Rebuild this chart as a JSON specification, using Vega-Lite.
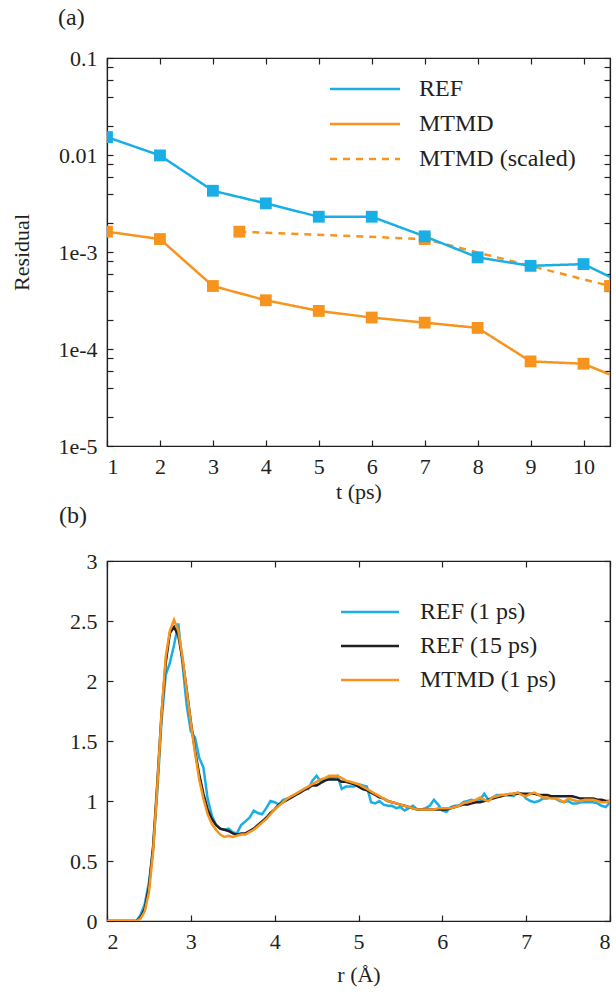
{
  "$schema": "https://vega.github.io/schema/vega-lite/v6.json",
  "background": "white",
  "autosize": {"type": "pad"},
  "padding": {"left": 10, "top": 5, "right": 5, "bottom": 5},
  "config": {
    "font": "Liberation Serif",
    "view": {"stroke": "#231f20", "strokeWidth": 1.2},
    "axis": {
      "labelFont": "Liberation Serif", "labelFontSize": 22, "labelColor": "#231f20",
      "titleFont": "Liberation Serif", "titleFontSize": 22, "titleFontWeight": "normal", "titleColor": "#231f20",
      "domainColor": "#231f20", "domainWidth": 1.2, "tickColor": "#231f20", "tickWidth": 1.2,
      "grid": false, "tickSize": -6, "labelPadding": 16
    },
    "legend": {
      "labelFont": "Liberation Serif", "labelFontSize": 24, "labelColor": "#231f20",
      "symbolStrokeWidth": 2.5, "symbolSize": 400
    },
    "title": {"font": "Liberation Serif", "fontSize": 24, "fontWeight": "normal", "color": "#231f20", "anchor": "start", "frame": "group"}
  },
  "bounds": "flush",
  "spacing": 115,
  "resolve": {"scale": {"color": "independent", "strokeDash": "independent"}, "legend": {"color": "independent", "strokeDash": "independent"}},
  "vconcat": [
    {
      "width": 503,
      "height": 388,
      "title": {"text": "(a)", "dx": -49, "offset": 17},
      "data": {"values": [
        {"t": 1, "v": 0.00162, "s": "MTMD"},
        {"t": 2, "v": 0.00136, "s": "MTMD"},
        {"t": 3, "v": 0.000446, "s": "MTMD"},
        {"t": 4, "v": 0.000318, "s": "MTMD"},
        {"t": 5, "v": 0.000247, "s": "MTMD"},
        {"t": 6, "v": 0.000211, "s": "MTMD"},
        {"t": 7, "v": 0.000187, "s": "MTMD"},
        {"t": 8, "v": 0.000165, "s": "MTMD"},
        {"t": 9, "v": 0.0000745, "s": "MTMD"},
        {"t": 10, "v": 0.0000705, "s": "MTMD"},
        {"t": 11, "v": 0.000042, "s": "MTMD"},
        {"t": 3.5, "v": 0.00162, "s": "MTMD (scaled)"},
        {"t": 7, "v": 0.00136, "s": "MTMD (scaled)"},
        {"t": 10.5, "v": 0.000446, "s": "MTMD (scaled)"},
        {"t": 1, "v": 0.0153, "s": "REF"},
        {"t": 2, "v": 0.0099, "s": "REF"},
        {"t": 3, "v": 0.00428, "s": "REF"},
        {"t": 4, "v": 0.00317, "s": "REF"},
        {"t": 5, "v": 0.00231, "s": "REF"},
        {"t": 6, "v": 0.00231, "s": "REF"},
        {"t": 7, "v": 0.00145, "s": "REF"},
        {"t": 8, "v": 0.00088, "s": "REF"},
        {"t": 9, "v": 0.00072, "s": "REF"},
        {"t": 10, "v": 0.00075, "s": "REF"},
        {"t": 11, "v": 0.00041, "s": "REF"}
      ]},
      "layer": [
        {
          "mark": {"type": "line", "strokeWidth": 2.5, "clip": true},
          "encoding": {
            "x": {"field": "t", "type": "quantitative",
                  "scale": {"domain": [1, 10.5], "nice": false, "zero": false},
                  "axis": {"values": [1,2,3,4,5,6,7,8,9,10], "title": "t (ps)", "titlePadding": 4}},
            "y": {"field": "v", "type": "quantitative",
                  "scale": {"type": "log", "domain": [0.00001, 0.1], "nice": false},
                  "axis": {"values": [0.00001,0.00002,0.00004,0.00006,0.00008,0.0001,0.0002,0.0004,0.0006,0.0008,0.001,0.002,0.004,0.006,0.008,0.01,0.02,0.04,0.06,0.08,0.1],
                           "labelExpr": "datum.value==0.1?'0.1':datum.value==0.01?'0.01':datum.value==0.001?'1e-3':datum.value==0.0001?'1e-4':datum.value==0.00001?'1e-5':''",
                           "title": "Residual", "titlePadding": 24}},
            "color": {"field": "s", "type": "nominal",
                      "scale": {"domain": ["REF", "MTMD", "MTMD (scaled)"], "range": ["#19aee6", "#f7941e", "#f7941e"]},
                      "legend": {"title": null, "orient": "none", "legendX": 246, "legendY": 19, "symbolType": "M-3.5,0L3.5,0", "rowPadding": 11, "labelOffset": 42}},
            "strokeDash": {"field": "s", "type": "nominal",
                      "scale": {"domain": ["REF", "MTMD", "MTMD (scaled)"], "range": [[1, 0], [1, 0], [7, 6]]},
                      "legend": {"title": null, "orient": "none", "legendX": 246, "legendY": 19, "symbolType": "M-3.5,0L3.5,0", "rowPadding": 11, "labelOffset": 42}}
          }
        },
        {
          "mark": {"type": "point", "shape": "square", "filled": true, "size": 140, "opacity": 1, "clip": true},
          "encoding": {
            "x": {"field": "t", "type": "quantitative", "axis": null},
            "y": {"field": "v", "type": "quantitative", "axis": null},
            "fill": {"field": "s", "type": "nominal",
                     "scale": {"domain": ["REF", "MTMD", "MTMD (scaled)"], "range": ["#19aee6", "#f7941e", "#f7941e"]},
                     "legend": null}
          }
        },
        {
          "mark": {"type": "line", "opacity": 0},
          "encoding": {
            "x": {"field": "t", "type": "quantitative",
                  "axis": {"orient": "top", "labels": false, "title": null, "values": [1,2,3,4,5,6,7,8,9,10]}},
            "y": {"field": "v", "type": "quantitative",
                  "axis": {"orient": "right", "labels": false, "title": null,
                           "values": [0.00001,0.00002,0.00004,0.00006,0.00008,0.0001,0.0002,0.0004,0.0006,0.0008,0.001,0.002,0.004,0.006,0.008,0.01,0.02,0.04,0.06,0.08,0.1]}}
          }
        }
      ],
      "resolve": {"axis": {"x": "independent", "y": "independent"}}
    },
    {
      "width": 503,
      "height": 360,
      "title": {"text": "(b)", "dx": -48, "offset": 22},
      "data": {"values": [
        {"r": 2.00, "ref1": 0, "ref15": 0, "mtmd": 0},
        {"r": 2.05, "ref1": 0, "ref15": 0, "mtmd": 0},
        {"r": 2.10, "ref1": 0, "ref15": 0, "mtmd": 0},
        {"r": 2.15, "ref1": 0, "ref15": 0, "mtmd": 0},
        {"r": 2.20, "ref1": 0, "ref15": 0, "mtmd": 0},
        {"r": 2.25, "ref1": 0, "ref15": 0, "mtmd": 0},
        {"r": 2.30, "ref1": 0, "ref15": 0, "mtmd": 0},
        {"r": 2.35, "ref1": 0, "ref15": 0, "mtmd": 0},
        {"r": 2.40, "ref1": 0.05, "ref15": 0.03, "mtmd": 0.02},
        {"r": 2.45, "ref1": 0.14, "ref15": 0.10, "mtmd": 0.08},
        {"r": 2.50, "ref1": 0.32, "ref15": 0.28, "mtmd": 0.24},
        {"r": 2.55, "ref1": 0.60, "ref15": 0.62, "mtmd": 0.58},
        {"r": 2.60, "ref1": 1.08, "ref15": 1.15, "mtmd": 1.12},
        {"r": 2.65, "ref1": 1.66, "ref15": 1.72, "mtmd": 1.72},
        {"r": 2.70, "ref1": 2.05, "ref15": 2.15, "mtmd": 2.20},
        {"r": 2.75, "ref1": 2.15, "ref15": 2.40, "mtmd": 2.42},
        {"r": 2.80, "ref1": 2.30, "ref15": 2.45, "mtmd": 2.51},
        {"r": 2.85, "ref1": 2.48, "ref15": 2.38, "mtmd": 2.42},
        {"r": 2.90, "ref1": 2.15, "ref15": 2.18, "mtmd": 2.20},
        {"r": 2.95, "ref1": 1.80, "ref15": 1.93, "mtmd": 1.92},
        {"r": 3.00, "ref1": 1.58, "ref15": 1.66, "mtmd": 1.65},
        {"r": 3.05, "ref1": 1.53, "ref15": 1.42, "mtmd": 1.40},
        {"r": 3.10, "ref1": 1.36, "ref15": 1.22, "mtmd": 1.18},
        {"r": 3.15, "ref1": 1.28, "ref15": 1.06, "mtmd": 1.02},
        {"r": 3.20, "ref1": 1.02, "ref15": 0.93, "mtmd": 0.89},
        {"r": 3.25, "ref1": 0.88, "ref15": 0.85, "mtmd": 0.81},
        {"r": 3.30, "ref1": 0.80, "ref15": 0.80, "mtmd": 0.76},
        {"r": 3.35, "ref1": 0.77, "ref15": 0.77, "mtmd": 0.72},
        {"r": 3.40, "ref1": 0.76, "ref15": 0.76, "mtmd": 0.70},
        {"r": 3.45, "ref1": 0.77, "ref15": 0.75, "mtmd": 0.71},
        {"r": 3.50, "ref1": 0.74, "ref15": 0.73, "mtmd": 0.70},
        {"r": 3.55, "ref1": 0.73, "ref15": 0.72, "mtmd": 0.71},
        {"r": 3.60, "ref1": 0.80, "ref15": 0.73, "mtmd": 0.72},
        {"r": 3.65, "ref1": 0.83, "ref15": 0.73, "mtmd": 0.72},
        {"r": 3.70, "ref1": 0.86, "ref15": 0.75, "mtmd": 0.74},
        {"r": 3.75, "ref1": 0.92, "ref15": 0.77, "mtmd": 0.76},
        {"r": 3.80, "ref1": 0.90, "ref15": 0.80, "mtmd": 0.79},
        {"r": 3.85, "ref1": 0.89, "ref15": 0.83, "mtmd": 0.82},
        {"r": 3.90, "ref1": 0.94, "ref15": 0.86, "mtmd": 0.85},
        {"r": 3.95, "ref1": 1.00, "ref15": 0.90, "mtmd": 0.89},
        {"r": 4.00, "ref1": 0.99, "ref15": 0.93, "mtmd": 0.93},
        {"r": 4.05, "ref1": 0.97, "ref15": 0.97, "mtmd": 0.96},
        {"r": 4.10, "ref1": 1.01, "ref15": 0.99, "mtmd": 0.99},
        {"r": 4.15, "ref1": 1.02, "ref15": 1.01, "mtmd": 1.02},
        {"r": 4.20, "ref1": 1.03, "ref15": 1.03, "mtmd": 1.04},
        {"r": 4.25, "ref1": 1.05, "ref15": 1.05, "mtmd": 1.06},
        {"r": 4.30, "ref1": 1.07, "ref15": 1.07, "mtmd": 1.08},
        {"r": 4.35, "ref1": 1.10, "ref15": 1.09, "mtmd": 1.10},
        {"r": 4.40, "ref1": 1.10, "ref15": 1.11, "mtmd": 1.12},
        {"r": 4.45, "ref1": 1.17, "ref15": 1.13, "mtmd": 1.14},
        {"r": 4.50, "ref1": 1.21, "ref15": 1.13, "mtmd": 1.16},
        {"r": 4.55, "ref1": 1.16, "ref15": 1.15, "mtmd": 1.18},
        {"r": 4.60, "ref1": 1.18, "ref15": 1.17, "mtmd": 1.19},
        {"r": 4.65, "ref1": 1.19, "ref15": 1.18, "mtmd": 1.21},
        {"r": 4.70, "ref1": 1.19, "ref15": 1.18, "mtmd": 1.21},
        {"r": 4.75, "ref1": 1.21, "ref15": 1.18, "mtmd": 1.21},
        {"r": 4.80, "ref1": 1.10, "ref15": 1.16, "mtmd": 1.19},
        {"r": 4.85, "ref1": 1.12, "ref15": 1.16, "mtmd": 1.17},
        {"r": 4.90, "ref1": 1.12, "ref15": 1.15, "mtmd": 1.16},
        {"r": 4.95, "ref1": 1.12, "ref15": 1.14, "mtmd": 1.15},
        {"r": 5.00, "ref1": 1.14, "ref15": 1.12, "mtmd": 1.14},
        {"r": 5.05, "ref1": 1.13, "ref15": 1.10, "mtmd": 1.12},
        {"r": 5.10, "ref1": 1.12, "ref15": 1.09, "mtmd": 1.10},
        {"r": 5.15, "ref1": 0.99, "ref15": 1.07, "mtmd": 1.08},
        {"r": 5.20, "ref1": 0.98, "ref15": 1.05, "mtmd": 1.06},
        {"r": 5.25, "ref1": 1.00, "ref15": 1.03, "mtmd": 1.04},
        {"r": 5.30, "ref1": 0.97, "ref15": 1.02, "mtmd": 1.02},
        {"r": 5.35, "ref1": 0.96, "ref15": 1.00, "mtmd": 1.00},
        {"r": 5.40, "ref1": 0.96, "ref15": 0.99, "mtmd": 0.99},
        {"r": 5.45, "ref1": 0.94, "ref15": 0.98, "mtmd": 0.98},
        {"r": 5.50, "ref1": 0.95, "ref15": 0.97, "mtmd": 0.97},
        {"r": 5.55, "ref1": 0.92, "ref15": 0.96, "mtmd": 0.96},
        {"r": 5.60, "ref1": 0.94, "ref15": 0.95, "mtmd": 0.95},
        {"r": 5.65, "ref1": 0.96, "ref15": 0.94, "mtmd": 0.94},
        {"r": 5.70, "ref1": 0.93, "ref15": 0.93, "mtmd": 0.93},
        {"r": 5.75, "ref1": 0.93, "ref15": 0.93, "mtmd": 0.93},
        {"r": 5.80, "ref1": 0.94, "ref15": 0.93, "mtmd": 0.93},
        {"r": 5.85, "ref1": 0.96, "ref15": 0.93, "mtmd": 0.93},
        {"r": 5.90, "ref1": 1.01, "ref15": 0.93, "mtmd": 0.93},
        {"r": 5.95, "ref1": 0.97, "ref15": 0.93, "mtmd": 0.94},
        {"r": 6.00, "ref1": 0.92, "ref15": 0.93, "mtmd": 0.94},
        {"r": 6.05, "ref1": 0.91, "ref15": 0.93, "mtmd": 0.94},
        {"r": 6.10, "ref1": 0.95, "ref15": 0.94, "mtmd": 0.94},
        {"r": 6.15, "ref1": 0.96, "ref15": 0.95, "mtmd": 0.95},
        {"r": 6.20, "ref1": 0.96, "ref15": 0.96, "mtmd": 0.96},
        {"r": 6.25, "ref1": 0.99, "ref15": 0.97, "mtmd": 0.98},
        {"r": 6.30, "ref1": 1.00, "ref15": 0.97, "mtmd": 0.99},
        {"r": 6.35, "ref1": 1.01, "ref15": 0.98, "mtmd": 1.00},
        {"r": 6.40, "ref1": 1.00, "ref15": 0.99, "mtmd": 1.01},
        {"r": 6.45, "ref1": 1.01, "ref15": 0.99, "mtmd": 1.03},
        {"r": 6.50, "ref1": 1.06, "ref15": 1.00, "mtmd": 1.01},
        {"r": 6.55, "ref1": 1.01, "ref15": 1.01, "mtmd": 1.00},
        {"r": 6.60, "ref1": 1.03, "ref15": 1.02, "mtmd": 1.03},
        {"r": 6.65, "ref1": 1.05, "ref15": 1.03, "mtmd": 1.04},
        {"r": 6.70, "ref1": 1.05, "ref15": 1.04, "mtmd": 1.05},
        {"r": 6.75, "ref1": 1.05, "ref15": 1.05, "mtmd": 1.05},
        {"r": 6.80, "ref1": 1.05, "ref15": 1.05, "mtmd": 1.06},
        {"r": 6.85, "ref1": 1.04, "ref15": 1.06, "mtmd": 1.06},
        {"r": 6.90, "ref1": 1.07, "ref15": 1.06, "mtmd": 1.07},
        {"r": 6.95, "ref1": 1.06, "ref15": 1.06, "mtmd": 1.05},
        {"r": 7.00, "ref1": 1.02, "ref15": 1.06, "mtmd": 1.04},
        {"r": 7.05, "ref1": 1.00, "ref15": 1.06, "mtmd": 1.06},
        {"r": 7.10, "ref1": 0.99, "ref15": 1.06, "mtmd": 1.07},
        {"r": 7.15, "ref1": 1.00, "ref15": 1.05, "mtmd": 1.05},
        {"r": 7.20, "ref1": 1.02, "ref15": 1.05, "mtmd": 1.03},
        {"r": 7.25, "ref1": 1.02, "ref15": 1.05, "mtmd": 1.03},
        {"r": 7.30, "ref1": 1.03, "ref15": 1.04, "mtmd": 1.02},
        {"r": 7.35, "ref1": 1.02, "ref15": 1.04, "mtmd": 1.02},
        {"r": 7.40, "ref1": 1.00, "ref15": 1.04, "mtmd": 1.01},
        {"r": 7.45, "ref1": 0.99, "ref15": 1.04, "mtmd": 0.99},
        {"r": 7.50, "ref1": 1.00, "ref15": 1.04, "mtmd": 1.02},
        {"r": 7.55, "ref1": 0.98, "ref15": 1.04, "mtmd": 1.01},
        {"r": 7.60, "ref1": 0.98, "ref15": 1.03, "mtmd": 1.00},
        {"r": 7.65, "ref1": 0.99, "ref15": 1.02, "mtmd": 1.00},
        {"r": 7.70, "ref1": 0.99, "ref15": 1.02, "mtmd": 1.01},
        {"r": 7.75, "ref1": 0.99, "ref15": 1.02, "mtmd": 1.01},
        {"r": 7.80, "ref1": 0.99, "ref15": 1.02, "mtmd": 1.01},
        {"r": 7.85, "ref1": 0.98, "ref15": 1.01, "mtmd": 1.00},
        {"r": 7.90, "ref1": 0.96, "ref15": 1.01, "mtmd": 0.99},
        {"r": 7.95, "ref1": 0.95, "ref15": 1.00, "mtmd": 0.99},
        {"r": 8.00, "ref1": 0.99, "ref15": 1.00, "mtmd": 1.00}
      ]},
      "transform": [{"fold": ["ref1", "ref15", "mtmd"], "as": ["s", "g"]}],
      "layer": [
        {
          "mark": {"type": "line", "strokeWidth": 2.5, "clip": true},
          "encoding": {
            "x": {"field": "r", "type": "quantitative",
                  "scale": {"domain": [2, 8], "nice": false, "zero": false},
                  "axis": {"values": [2,3,4,5,6,7,8], "title": "r (Å)", "titlePadding": 12}},
            "y": {"field": "g", "type": "quantitative",
                  "scale": {"domain": [0, 3], "nice": false},
                  "axis": {"values": [0,0.5,1,1.5,2,2.5,3], "format": "~g", "title": null}},
            "color": {"field": "s", "type": "nominal",
                      "scale": {"domain": ["ref1", "ref15", "mtmd"], "range": ["#19aee6", "#231f20", "#f7941e"]},
                      "legend": {"title": null, "orient": "none", "legendX": 251, "legendY": 39, "symbolType": "M-2.9,0L2.9,0", "rowPadding": 10, "labelOffset": 38,
                                 "labelExpr": "datum.label=='ref1'?'REF (1 ps)':datum.label=='ref15'?'REF (15 ps)':'MTMD (1 ps)'"}}
          }
        },
        {
          "mark": {"type": "line", "opacity": 0},
          "encoding": {
            "x": {"field": "r", "type": "quantitative",
                  "axis": {"orient": "top", "labels": false, "title": null, "values": [2,3,4,5,6,7,8]}},
            "y": {"field": "g", "type": "quantitative",
                  "axis": {"orient": "right", "labels": false, "title": null, "values": [0,0.5,1,1.5,2,2.5,3]}}
          }
        }
      ],
      "resolve": {"axis": {"x": "independent", "y": "independent"}}
    }
  ]
}
